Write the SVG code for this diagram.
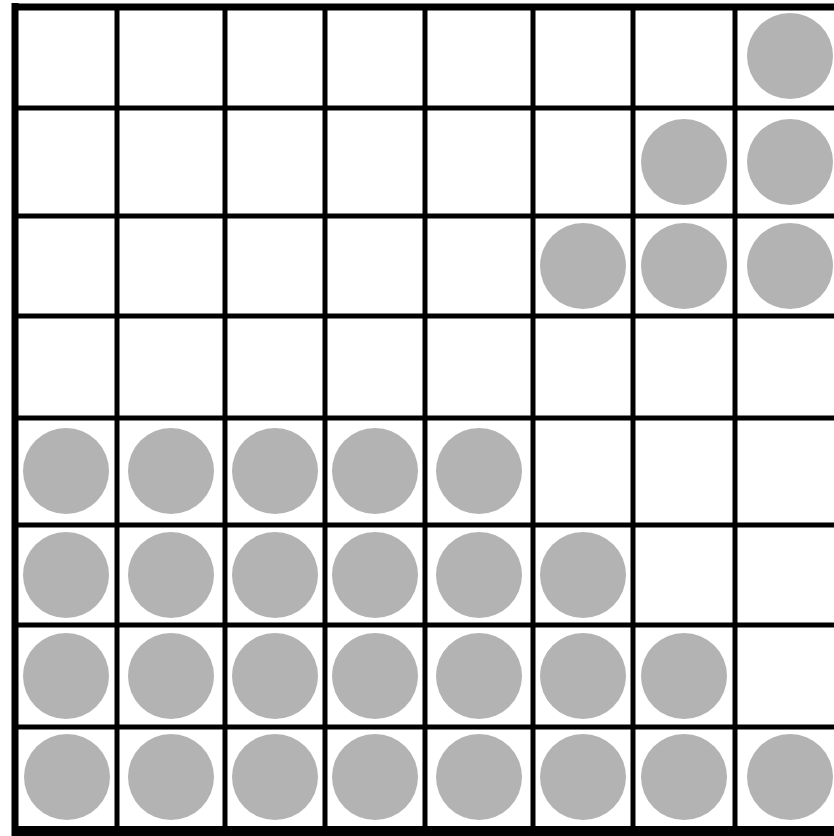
<svg xmlns="http://www.w3.org/2000/svg" width="834" height="836" viewBox="0 0 834 836">
<style>
.ln{stroke:#000;stroke-width:5;fill:none}
.bd{stroke:#000;stroke-width:7;fill:none}
.pc{fill:#b3b3b3}
</style>
<rect x="0" y="0" width="834" height="836" fill="#fff"/>
<g id="grid">
<line class="ln" x1="15" y1="108" x2="834" y2="108"/>
<line class="ln" x1="15" y1="216" x2="834" y2="216"/>
<line class="ln" x1="15" y1="316" x2="834" y2="316"/>
<line class="ln" x1="15" y1="418" x2="834" y2="418"/>
<line class="ln" x1="15" y1="525" x2="834" y2="525"/>
<line class="ln" x1="15" y1="625" x2="834" y2="625"/>
<line class="ln" x1="15" y1="727" x2="834" y2="727"/>
<line class="ln" x1="117" y1="7" x2="117" y2="830"/>
<line class="ln" x1="225" y1="7" x2="225" y2="830"/>
<line class="ln" x1="325" y1="7" x2="325" y2="830"/>
<line class="ln" x1="425" y1="7" x2="425" y2="830"/>
<line class="ln" x1="533" y1="7" x2="533" y2="830"/>
<line class="ln" x1="633" y1="7" x2="633" y2="830"/>
<line class="ln" x1="735" y1="7" x2="735" y2="830"/>
<line class="bd" x1="15" y1="3" x2="15" y2="836"/>
<line class="bd" x1="12" y1="7" x2="834" y2="7"/>
<rect x="12" y="826" width="822" height="10" fill="#000"/>
</g>
<g id="pieces">
<g id="p0_7"><circle class="pc" cx="790" cy="56" r="43"/></g>
<g id="p1_6"><circle class="pc" cx="684" cy="162" r="43"/></g>
<g id="p1_7"><circle class="pc" cx="790" cy="162" r="43"/></g>
<g id="p2_5"><circle class="pc" cx="583" cy="266" r="43"/></g>
<g id="p2_6"><circle class="pc" cx="684" cy="266" r="43"/></g>
<g id="p2_7"><circle class="pc" cx="790" cy="266" r="43"/></g>
<g id="p4_0"><circle class="pc" cx="66" cy="471" r="43"/></g>
<g id="p4_1"><circle class="pc" cx="171" cy="471" r="43"/></g>
<g id="p4_2"><circle class="pc" cx="275" cy="471" r="43"/></g>
<g id="p4_3"><circle class="pc" cx="375" cy="471" r="43"/></g>
<g id="p4_4"><circle class="pc" cx="479" cy="471" r="43"/></g>
<g id="p5_0"><circle class="pc" cx="66" cy="575" r="43"/></g>
<g id="p5_1"><circle class="pc" cx="171" cy="575" r="43"/></g>
<g id="p5_2"><circle class="pc" cx="275" cy="575" r="43"/></g>
<g id="p5_3"><circle class="pc" cx="375" cy="575" r="43"/></g>
<g id="p5_4"><circle class="pc" cx="479" cy="575" r="43"/></g>
<g id="p5_5"><circle class="pc" cx="583" cy="575" r="43"/></g>
<g id="p6_0"><circle class="pc" cx="66" cy="676" r="43"/></g>
<g id="p6_1"><circle class="pc" cx="171" cy="676" r="43"/></g>
<g id="p6_2"><circle class="pc" cx="275" cy="676" r="43"/></g>
<g id="p6_3"><circle class="pc" cx="375" cy="676" r="43"/></g>
<g id="p6_4"><circle class="pc" cx="479" cy="676" r="43"/></g>
<g id="p6_5"><circle class="pc" cx="583" cy="676" r="43"/></g>
<g id="p6_6"><circle class="pc" cx="684" cy="676" r="43"/></g>
<g id="p7_0"><circle class="pc" cx="67" cy="777" r="43"/></g>
<g id="p7_1"><circle class="pc" cx="171" cy="777" r="43"/></g>
<g id="p7_2"><circle class="pc" cx="275" cy="777" r="43"/></g>
<g id="p7_3"><circle class="pc" cx="375" cy="777" r="43"/></g>
<g id="p7_4"><circle class="pc" cx="479" cy="777" r="43"/></g>
<g id="p7_5"><circle class="pc" cx="583" cy="777" r="43"/></g>
<g id="p7_6"><circle class="pc" cx="684" cy="777" r="43"/></g>
<g id="p7_7"><circle class="pc" cx="790" cy="777" r="43"/></g>
</g>
</svg>
